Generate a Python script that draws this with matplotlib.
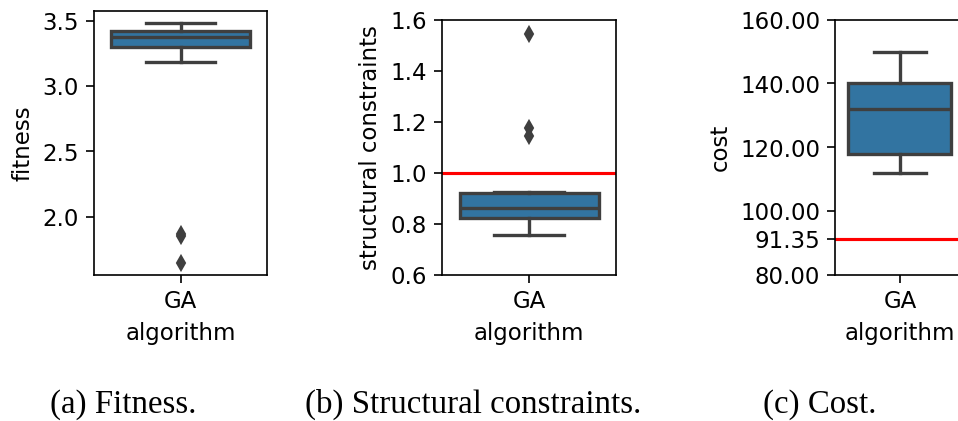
import matplotlib
matplotlib.use("Agg")
import matplotlib.pyplot as plt
from matplotlib.ticker import FormatStrFormatter

# summary stats of the GA runs (q1, median, q3, whiskers, outliers)
algorithms = ["GA"]

fitness_q1, fitness_med, fitness_q3 = 3.30, 3.378, 3.418
fitness_whis = (3.183, 3.485)
fitness_fliers = [1.870, 1.853, 1.646]

struct_q1, struct_med, struct_q3 = 0.824, 0.861, 0.919
struct_whis = (0.757, 0.926)
struct_fliers = [1.545, 1.176, 1.145]
struct_limit = 1.0

cost_q1, cost_med, cost_q3 = 118.0, 132.0, 140.0
cost_whis = (112.0, 150.0)
cost_fliers = []
cost_limit = 91.35
cost_ticks = [80, cost_limit, 100, 120, 140, 160]

captions = ["(a) Fitness.", "(b) Structural constraints.", "(c) Cost."]

plt.rcParams["font.size"] = 11
plt.rcParams["xtick.major.size"] = 3.7
plt.rcParams["ytick.major.size"] = 3.7

BLUE = "#3274a1"
GRAY = "#3f3f3f"
LW = 1.6

W, H = 958, 421
fig = plt.figure(figsize=(958.4 / 150, 421.4 / 150), dpi=150)


def make_stats(q1, med, q3, whis, fliers):
    return [dict(q1=q1, med=med, q3=q3, whislo=whis[0], whishi=whis[1],
                 fliers=fliers, label=algorithms[0])]


def draw_box(ax, stats):
    ax.bxp(stats, positions=[0], widths=0.8, patch_artist=True,
           boxprops=dict(facecolor=BLUE, edgecolor=GRAY, linewidth=LW),
           medianprops=dict(color=GRAY, linewidth=LW),
           whiskerprops=dict(color=GRAY, linewidth=LW),
           capprops=dict(color=GRAY, linewidth=LW),
           flierprops=dict(marker="d", markersize=5, markerfacecolor=GRAY,
                           markeredgecolor=GRAY, linestyle="none"))
    ax.set_xlim(-0.5, 0.5)
    ax.set_xticks([0])
    ax.set_xticklabels(algorithms)
    ax.set_xlabel("algorithm")


def px_axes(left, right, top, bottom):
    return fig.add_axes([left / W, 1 - bottom / H, (right - left) / W, (bottom - top) / H])


ax1 = px_axes(94, 267, 11, 275)
draw_box(ax1, make_stats(fitness_q1, fitness_med, fitness_q3, fitness_whis, fitness_fliers))
ax1.set_ylabel("fitness")

ax2 = px_axes(442, 616, 20, 275)
draw_box(ax2, make_stats(struct_q1, struct_med, struct_q3, struct_whis, struct_fliers))
ax2.axhline(struct_limit, color="red", linewidth=1.5)
ax2.set_ylim(0.6, 1.6)
ax2.set_ylabel("structural constraints")

# right spine of this panel runs past the figure edge
ax3 = px_axes(835, 964, 20, 275)
draw_box(ax3, make_stats(cost_q1, cost_med, cost_q3, cost_whis, cost_fliers))
ax3.axhline(cost_limit, color="red", linewidth=1.5)
ax3.set_ylim(80, 160)
ax3.set_yticks(cost_ticks)
ax3.yaxis.set_major_formatter(FormatStrFormatter("%.2f"))
ax3.set_ylabel("cost")

for cx, text in zip([123.5, 473, 819.5], captions):
    fig.text(cx / W, 1 - 412 / H, text, ha="center", va="baseline",
             family="Liberation Serif", fontsize=15.8)

fig.savefig("out.png", dpi=150)
